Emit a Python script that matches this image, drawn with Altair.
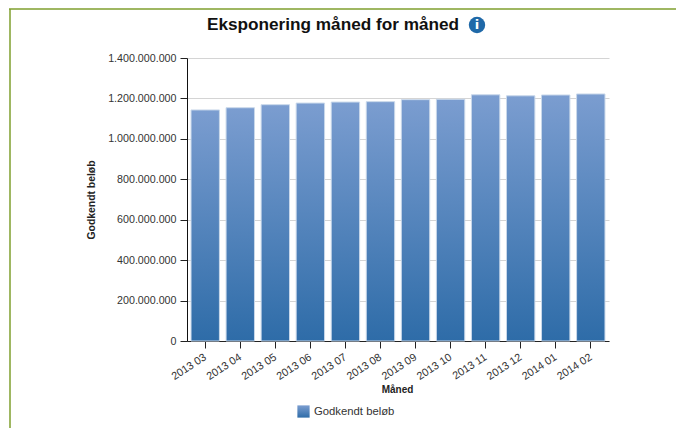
import altair as alt
import pandas as pd

months = ["2013 03", "2013 04", "2013 05", "2013 06", "2013 07", "2013 08",
          "2013 09", "2013 10", "2013 11", "2013 12", "2014 01", "2014 02"]
values = [1143e6, 1154e6, 1169e6, 1177e6, 1182e6, 1184e6,
          1194e6, 1196e6, 1218e6, 1213e6, 1217e6, 1222e6]
series = "Godkendt beløb"
title = "Eksponering måned for måned"

df = pd.DataFrame({"Måned": months, "v": values, "s": [series] * len(months)})
FONT = "Liberation Sans"

grad_expr = ("{gradient:'linear',x1:0,x2:0,y1:0,y2:1,stops:["
             "{color:'#7b9dd0',offset:0},{color:'#2e6ca8',offset:1}]}")

bars = alt.Chart(df).mark_bar(stroke="#c9d8ea", strokeWidth=1).encode(
    x=alt.X("Måned:N", sort=months,
            scale=alt.Scale(paddingInner=0.19, paddingOuter=0.115),
            axis=alt.Axis(title="Måned", labelAngle=-33, labelAlign="right", labelBaseline="top",
                          labelFont=FONT, labelFontSize=10.8, labelColor="#333333",
                          labelPadding=3, labelOffset=-3, tickSize=7, tickColor="#222222",
                          domainColor="#222222", titleFont=FONT, titleFontSize=10,
                          titleFontWeight="bold", titleColor="#222222", titlePadding=4,
                          titleX=210, titleY=43, grid=False)),
    y=alt.Y("v:Q", scale=alt.Scale(domain=[0, 1400000000]),
            axis=alt.Axis(title=series, values=[i * 200000000 for i in range(8)],
                          labelExpr="replace(format(datum.value, ','), /,/g, '.')",
                          labelFont=FONT, labelFontSize=10.7, labelColor="#333333",
                          labelPadding=4, tickSize=7, tickColor="#222222",
                          domainColor="#111111", gridColor="#d4d4d4",
                          titleFont=FONT, titleFontSize=10.4, titleFontWeight="bold",
                          titleColor="#222222", titlePadding=11)),
    fill=alt.Fill("s:N", scale=alt.Scale(domain=[series], range=[{"expr": grad_expr}]),
                  legend=alt.Legend(title=None, orient="none", legendX=110, legendY=347,
                                    symbolType="square", symbolSize=150, symbolStrokeWidth=0,
                                    labelFont=FONT, labelFontSize=11.3, labelColor="#333333",
                                    labelOffset=4)),
)

# Frame of the card, the heading and the info badge next to it
frame_top = alt.Chart(df.head(1)).mark_rule(color="#7f9f2e", strokeWidth=1.5).encode(
    x=alt.value(-178), x2=alt.value(500), y=alt.value(-49))
frame_left = alt.Chart(df.head(1)).mark_rule(color="#7f9f2e", strokeWidth=1.5).encode(
    x=alt.value(-177), y=alt.value(-49), y2=alt.value(400))
heading = alt.Chart(df.head(1)).mark_text(text=title, font=FONT, fontSize=17.2, fontWeight="bold",
                                          color="#111111", align="center", baseline="middle").encode(
    x=alt.value(146), y=alt.value(-33))
badge = alt.Chart(df.head(1)).mark_point(filled=True, shape="circle", size=270, color="#1f69a8", opacity=1).encode(
    x=alt.value(290), y=alt.value(-33))
badge_i = alt.Chart(df.head(1)).mark_text(text="i", font="DejaVu Sans", fontWeight="bold", fontSize=13,
                                          color="white").encode(x=alt.value(290), y=alt.value(-33))

chart = alt.layer(bars, frame_top, frame_left, heading, badge, badge_i).properties(
    width=422, height=283,
    padding={"left": 179, "top": 50, "right": 67, "bottom": 87},
    autosize=alt.AutoSizeParams(type="none"),
).configure_view(stroke=None)

chart.save("out.html", embed_options={"renderer": "svg", "actions": False})
